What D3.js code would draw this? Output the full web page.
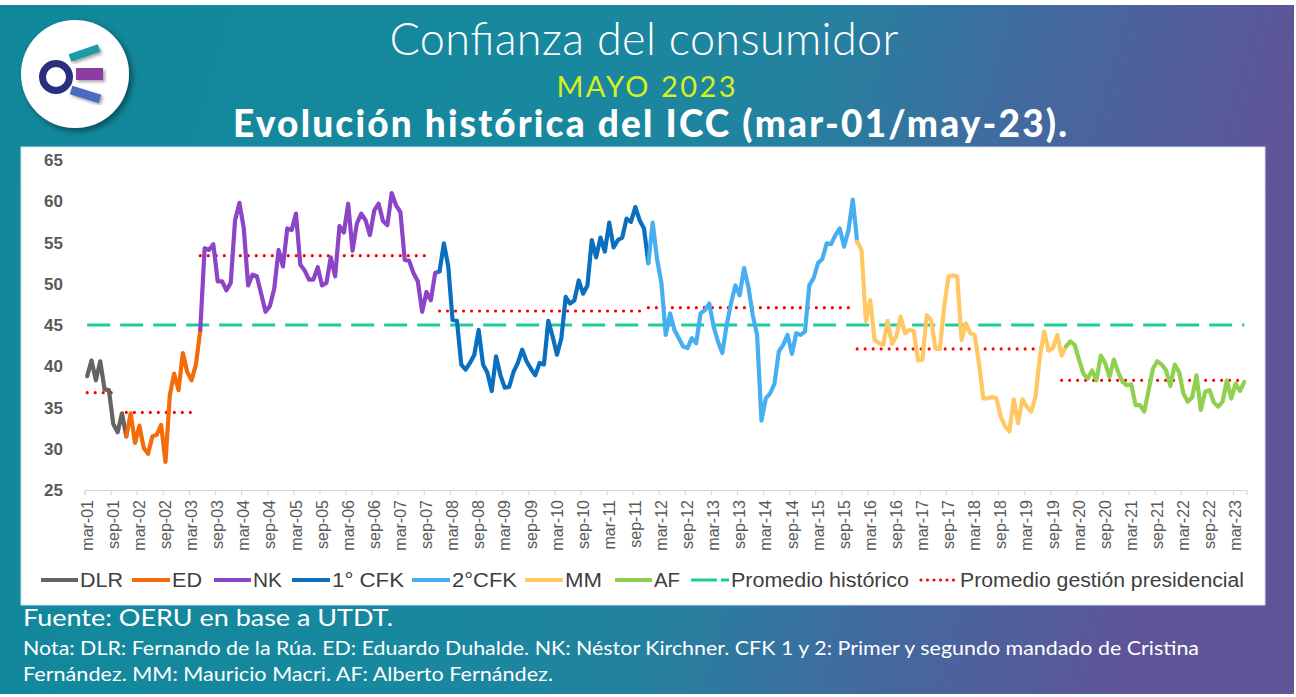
<!DOCTYPE html>
<html><head><meta charset="utf-8">
<script src="https://cdn.jsdelivr.net/npm/d3@7"></script>
<style>body{margin:0;background:#fff;} svg{display:block}</style>
</head><body>
<svg id="c" width="1296" height="697"></svg>
<script>
// ---------- DATA ----------
const monthNames = ["ene","feb","mar","abr","may","jun","jul","ago","sep","oct","nov","dic"];
const startYear = 2001, startMonthIdx = 2; // mar-01
const tickLabels = ["mar-01","sep-01","mar-02","sep-02","mar-03","sep-03","mar-04","sep-04","mar-05","sep-05",
  "mar-06","sep-06","mar-07","sep-07","mar-08","sep-08","mar-09","sep-09","mar-10","sep-10","mar-11","sep-11",
  "mar-12","sep-12","mar-13","sep-13","mar-14","sep-14","mar-15","sep-15","mar-16","sep-16","mar-17","sep-17",
  "mar-18","sep-18","mar-19","sep-19","mar-20","sep-20","mar-21","sep-21","mar-22","sep-22","mar-23"];
const yTicks = [25,30,35,40,45,50,55,60,65];
// ICC monthly values mar-01 .. may-23
const icc = [
 38.8,40.7,38.3,40.6,37.2,37.1,33.0,32.0,34.3,31.5,
 34.3,30.7,32.8,30.1,29.4,31.5,31.7,32.9,28.4,36.5,
 39.1,37.1,41.6,39.3,38.3,40.2,44.4,54.3,54.1,54.8,
 50.3,50.3,49.2,50.1,57.7,59.8,56.7,49.8,51.1,50.9,
 48.8,46.6,47.3,49.4,54.1,52.1,56.7,56.5,58.5,52.3,
 51.6,50.5,50.5,52.0,49.8,50.1,53.2,50.9,57.0,56.2,
 59.7,54.0,57.3,58.5,57.7,55.9,58.9,59.7,57.6,57.1,
 61.0,59.5,58.7,52.9,52.8,51.3,50.3,46.6,49.0,48.0,
 51.3,51.5,54.9,52.1,45.6,45.5,40.2,39.6,40.4,41.4,
 44.4,40.2,39.2,37.0,41.2,38.9,37.4,37.5,39.3,40.4,
 42.0,40.6,39.7,38.9,40.4,40.2,45.5,43.6,41.4,43.4,
 48.4,47.6,48.0,50.4,48.8,49.8,55.3,53.2,55.6,53.9,
 57.4,54.4,55.3,55.6,57.9,57.5,59.3,57.7,56.7,52.5,
 57.4,53.0,50.1,43.8,46.4,44.4,43.4,42.4,42.2,43.4,
 42.8,46.4,46.8,47.6,44.8,43.0,41.6,45.0,47.6,49.8,
 48.6,51.9,49.6,46.2,43.8,33.4,36.1,36.7,37.9,41.8,
 42.6,43.8,41.5,44.0,43.8,44.2,49.8,50.7,52.5,53.0,
 54.9,54.8,55.9,56.7,54.5,56.5,60.2,55.1,54.1,45.5,
 48.0,43.2,42.8,42.6,45.5,42.7,43.6,46.0,44.0,44.4,
 44.3,40.7,40.8,46.2,45.6,42.2,42.1,47.2,50.9,51.0,
 50.9,43.2,45.2,44.0,43.8,40.4,36.1,36.1,36.3,36.1,
 33.9,32.7,32.1,36.0,33.1,36.0,35.1,34.5,36.3,41.2,
 44.2,41.9,42.2,43.8,41.3,42.4,43.0,42.6,40.8,39.1,
 38.5,39.5,38.3,41.3,40.4,38.7,40.8,39.3,38.1,37.7,
 37.8,35.3,35.3,34.5,37.1,39.7,40.6,40.2,39.5,37.6,
 40.2,39.3,36.7,35.7,36.2,38.9,34.7,36.9,37.1,35.6,
 35.1,35.7,38.3,36.1,37.9,37.0,38.1];
const presidents = ["DLR","ED","NK","1° CFK","2°CFK","MM","AF"];
const presStart = [0,9,26,81,129,177,225];
const presEnd   = [9,26,81,129,177,225,266];
const presColors = ["#646464","#f46b0a","#8b45c6","#0b6fbf","#47aef2","#ffc864","#8fd04f"];
const presAvg = [36.8,34.4,53.4,46.7,47.1,42.1,38.3];
const avgStart = [0,9,26,81,129,177,224];
const avgEnd   = [6,24,79,127,175,222,266];
const historicalAvg = 45.0;

// ---------- BUILD ----------
const categories = icc.map((v,i)=>{
  const m = (startMonthIdx + i) % 12;
  const y = startYear + Math.floor((startMonthIdx + i)/12);
  return monthNames[m] + "-" + String(y % 100).padStart(2,"0");
});

const svg = d3.select("#c");
const defs = svg.append("defs");
const bg = defs.append("linearGradient").attr("id","bg").attr("x1","0").attr("x2","1").attr("y1","0").attr("y2","0.15");
[["0%","#10889a"],["45%","#18889f"],["62%","#23829f"],["80%","#43699f"],["100%","#5f5497"]].forEach(s=>bg.append("stop").attr("offset",s[0]).attr("stop-color",s[1]));
const sh = defs.append("filter").attr("id","sh").attr("x","-30%").attr("y","-30%").attr("width","160%").attr("height","160%");
sh.append("feDropShadow").attr("dx",3).attr("dy",3).attr("stdDeviation",3).attr("flood-color","#000").attr("flood-opacity",0.45);
const sh2 = defs.append("filter").attr("id","sh2").attr("x","-30%").attr("y","-60%").attr("width","160%").attr("height","220%");
sh2.append("feDropShadow").attr("dx",2).attr("dy",2).attr("stdDeviation",1.5).attr("flood-color","#000").attr("flood-opacity",0.35);

svg.append("rect").attr("x",0).attr("y",5).attr("width",1294).attr("height",689).attr("fill","url(#bg)");

// logo
const logo = svg.append("g");
logo.append("circle").attr("cx",75).attr("cy",74).attr("r",54).attr("fill","#fff").attr("filter","url(#sh)");
logo.append("line").attr("x1",70).attr("y1",58).attr("x2",99).attr("y2",48).attr("stroke","#1b9aa6").attr("stroke-width",8).attr("filter","url(#sh2)");
logo.append("rect").attr("x",76).attr("y",68).attr("width",27).attr("height",12).attr("fill","#8a3ea2").attr("filter","url(#sh2)");
logo.append("line").attr("x1",71).attr("y1",90).attr("x2",100).attr("y2",99).attr("stroke","#4a6cc0").attr("stroke-width",9).attr("filter","url(#sh2)");
logo.append("circle").attr("cx",56).attr("cy",77).attr("r",13.5).attr("fill","#fff").attr("stroke","#2b2f7d").attr("stroke-width",7);

// titles
svg.append("text").attr("x",644).attr("y",55).attr("text-anchor","middle").attr("fill","#fff")
  .style("font-family","Lato").style("font-weight",300).style("font-size","45px")
  .attr("textLength",509).text("Confianza del consumidor");
svg.append("text").attr("x",646).attr("y",97).attr("text-anchor","middle").attr("fill","#d6f01e")
  .style("font-family","Lato").style("font-weight",400).style("font-size","29px")
  .attr("textLength",179).text("MAYO 2023");
svg.append("text").attr("x",650).attr("y",137).attr("text-anchor","middle").attr("fill","#fff")
  .style("font-family","Lato").style("font-weight",900).style("font-size","37px")
  .attr("textLength",834).text("Evolución histórica del ICC (mar-01/may-23).");

// panel
svg.append("rect").attr("x",21).attr("y",147).attr("width",1244).attr("height",458).attr("fill","#fff").attr("stroke","#cfe3ea").attr("stroke-width",1);

// scales
const x = d3.scaleBand().domain(categories).range([85,1246.5]).padding(0);
const cx = c => x(c) + x.bandwidth()/2;
const y = d3.scaleLinear().domain([25,65]).range([490,160]);

// y labels
svg.append("g").selectAll("text").data(yTicks).join("text")
  .attr("x",63).attr("y",d=>y(d)).attr("dy","0.36em").attr("text-anchor","end")
  .attr("fill","#595959").style("font-family","'Liberation Sans',Arial").style("font-weight","bold").style("font-size","17px")
  .text(d=>d);

// x axis
const xAxis = d3.axisBottom(x).tickValues(tickLabels).tickSize(5).tickFormat("");
const gx = svg.append("g").attr("transform","translate(0,490)").call(xAxis);
gx.select(".domain").attr("stroke","#d9d9d9").attr("stroke-width",1.2);
gx.selectAll(".tick line").attr("stroke","#d9d9d9").attr("stroke-width",1.2)
  .attr("transform",`translate(${-x.bandwidth()/2},0)`);
svg.append("g").selectAll("text").data(tickLabels).join("text")
  .attr("transform",d=>`translate(${cx(d)},500) rotate(-90)`)
  .attr("text-anchor","end").attr("dy","0.35em")
  .attr("fill","#595959").style("font-family","'Liberation Sans',Arial").style("font-size","16px")
  .text(d=>d);

// historical average
svg.append("line").attr("x1",cx(categories[0])).attr("x2",cx(categories[categories.length-1]))
  .attr("y1",y(historicalAvg)).attr("y2",y(historicalAvg))
  .attr("stroke","#1ccc9c").attr("stroke-width",3).attr("stroke-dasharray","23,10");

// presidential averages
presidents.forEach((p,k)=>{
  svg.append("line").attr("x1",cx(categories[avgStart[k]])).attr("x2",cx(categories[avgEnd[k]]))
    .attr("y1",y(presAvg[k])).attr("y2",y(presAvg[k]))
    .attr("stroke","#ff0000").attr("stroke-width",3.2).attr("stroke-linecap","round").attr("stroke-dasharray","0,8");
});

// series lines
const line = d3.line().x(d=>cx(d.c)).y(d=>y(d.v)).curve(d3.curveLinear);
presidents.forEach((p,k)=>{
  const pts = [];
  for(let i=presStart[k]; i<=presEnd[k]; i++) pts.push({c:categories[i], v:icc[i]});
  svg.append("path").datum(pts).attr("d",line).attr("fill","none")
    .attr("stroke",presColors[k]).attr("stroke-width",4.2).attr("stroke-linejoin","round").attr("stroke-linecap","round");
});

// legend
const legendItems = [
  {t:"DLR",type:"s",c:presColors[0],x:41,w:37,tl:43},
  {t:"ED",type:"s",c:presColors[1],x:132,w:38,tl:30},
  {t:"NK",type:"s",c:presColors[2],x:214,w:37,tl:29},
  {t:"1° CFK",type:"s",c:presColors[3],x:292,w:38,tl:72},
  {t:"2°CFK",type:"s",c:presColors[4],x:412,w:38,tl:65},
  {t:"MM",type:"s",c:presColors[5],x:525,w:38,tl:37},
  {t:"AF",type:"s",c:presColors[6],x:615,w:37,tl:26},
  {t:"Promedio histórico",type:"h",c:"#1ccc9c",x:691,w:38,tl:178},
  {t:"Promedio gestión presidencial",type:"a",c:"#ff0000",x:921,w:37,tl:284}
];
const lg = svg.append("g");
legendItems.forEach(it=>{
  const l = lg.append("line").attr("x1",it.x).attr("x2",it.x+it.w).attr("y1",580).attr("y2",580).attr("stroke",it.c);
  if(it.type==="s") l.attr("stroke-width",4.2);
  if(it.type==="h") l.attr("stroke-width",3).attr("stroke-dasharray","26,4");
  if(it.type==="a") l.attr("stroke-width",3.2).attr("stroke-linecap","round").attr("stroke-dasharray","0,6.5");
  lg.append("text").attr("x",it.x+it.w+2).attr("y",580).attr("dy","0.36em")
    .attr("fill","#404040").style("font-family","'Liberation Sans',Arial").style("font-size","20px")
    .attr("textLength",it.tl).attr("lengthAdjust","spacingAndGlyphs").text(it.t);
});

// footer
svg.append("text").attr("x",23).attr("y",626).attr("fill","#fff")
  .style("font-family","Lato").style("font-size","23px").attr("textLength",370).attr("lengthAdjust","spacingAndGlyphs").text("Fuente: OERU en base a UTDT.");
svg.append("text").attr("x",23).attr("y",655).attr("fill","#fff")
  .style("font-family","Lato").style("font-size","19px").attr("textLength",1176).attr("lengthAdjust","spacingAndGlyphs")
  .text("Nota: DLR: Fernando de la Rúa. ED: Eduardo Duhalde. NK: Néstor Kirchner. CFK 1 y 2: Primer y segundo mandado de Cristina");
svg.append("text").attr("x",23).attr("y",681).attr("fill","#fff")
  .style("font-family","Lato").style("font-size","19px").attr("textLength",530).attr("lengthAdjust","spacingAndGlyphs")
  .text("Fernández. MM: Mauricio Macri. AF: Alberto Fernández.");
</script>
</body></html>
